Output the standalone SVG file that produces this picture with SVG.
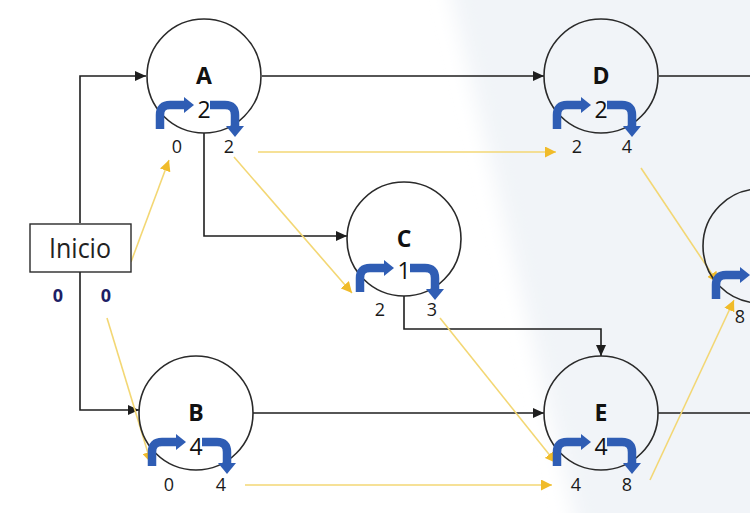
<svg xmlns="http://www.w3.org/2000/svg" xmlns:xlink="http://www.w3.org/1999/xlink" width="750" height="513" viewBox="0 0 750 513">
<style>
.circ{fill:none;stroke:#2a2a2a;stroke-width:1.6}
.name{font-family:"Open Sans","DejaVu Sans",sans-serif;font-weight:bold;font-size:23px;fill:#111;text-anchor:middle}
.dur{font-family:"Open Sans","DejaVu Sans",sans-serif;font-size:23px;font-weight:500;fill:#111;text-anchor:middle}
.val{font-family:"Open Sans","DejaVu Sans",sans-serif;font-size:18px;font-weight:500;fill:#1a1a1a;text-anchor:middle}
.ini{font-family:"Open Sans","DejaVu Sans",sans-serif;font-weight:bold;font-size:18px;fill:#1e1f66;text-anchor:middle}
.blk{fill:none;stroke:#1e1e1e;stroke-width:1.6}
.yel{fill:none;stroke:#f3d774;stroke-width:1.6}
.blue{fill:none;stroke:#2f5db4;stroke-width:8.5}
.bluefill{fill:#2f5db4}
</style>
<defs>
<marker id="ab" markerUnits="userSpaceOnUse" markerWidth="12" markerHeight="10" refX="11" refY="5" orient="auto"><path d="M0,0 L11,5 L0,10 z" fill="#1e1e1e"/></marker>
<marker id="ay" markerUnits="userSpaceOnUse" markerWidth="12" markerHeight="11" refX="11" refY="5.5" orient="auto"><path d="M0,0 L11,5.5 L0,11 z" fill="#f0bb2a"/></marker>
<g id="loopL"><path class="blue" d="M-44,53 V39 Q-44,29 -34,29 H-18"/><polygon class="bluefill" points="-20,21 -10,29 -20,37"/></g>
<g id="loopR"><path class="blue" d="M6,29 H21 Q31,29 31,39 V51"/><polygon class="bluefill" points="22,50 31,61 40,50"/></g>
<filter id="soft" x="-20%" y="-20%" width="140%" height="140%"><feGaussianBlur stdDeviation="10"/></filter>
</defs>
<rect width="750" height="513" fill="#ffffff"/>
<polygon points="445,-30 800,-30 800,560 585,560" fill="#f1f4f8" filter="url(#soft)"/>

<g id="connectors">
<path class="blk" d="M80,223 V76 H146" marker-end="url(#ab)"/>
<path class="blk" d="M80,272 V410 H139" marker-end="url(#ab)"/>
<path class="blk" d="M262,76 H544" marker-end="url(#ab)"/>
<path class="blk" d="M659,76 H750"/>
<path class="blk" d="M204,133 V236 H347" marker-end="url(#ab)"/>
<path class="blk" d="M404,296 V329 H601 V356" marker-end="url(#ab)"/>
<path class="blk" d="M253,413 H544" marker-end="url(#ab)"/>
<path class="blk" d="M658,413 H750"/>
<path class="yel" d="M131,262 L169,160" marker-end="url(#ay)"/>
<path class="yel" d="M107,318 L151,463" marker-end="url(#ay)"/>
<path class="yel" d="M234,157 L352,293" marker-end="url(#ay)"/>
<path class="yel" d="M258,152 H556" marker-end="url(#ay)"/>
<path class="yel" d="M440,318 L556,463" marker-end="url(#ay)"/>
<path class="yel" d="M245,485 H552" marker-end="url(#ay)"/>
<path class="yel" d="M641,168 L718,283" marker-end="url(#ay)"/>
<path class="yel" d="M650,480 L734,300" marker-end="url(#ay)"/>
</g>

<g id="node-Inicio">
<rect x="30" y="224" width="101" height="48" fill="#ffffff" stroke="#2a2a2a" stroke-width="1.4"/>
<text x="80" y="258" font-family="'Open Sans','DejaVu Sans',sans-serif" font-size="27" fill="#222" text-anchor="middle" textLength="62" lengthAdjust="spacingAndGlyphs">Inicio</text>
<text class="ini" x="58" y="302">0</text>
<text class="ini" x="106" y="302">0</text>
</g>

<g id="node-A" transform="translate(204,76)">
<circle class="circ" r="57"/>
<use xlink:href="#loopL"/><use xlink:href="#loopR"/>
<text class="name" y="8">A</text>
<text class="dur" y="42">2</text>
<text class="val" x="-27" y="77">0</text>
<text class="val" x="25" y="77">2</text>
</g>

<g id="node-D" transform="translate(601,76)">
<circle class="circ" r="57"/>
<use xlink:href="#loopL"/><use xlink:href="#loopR"/>
<text class="name" y="8">D</text>
<text class="dur" y="42">2</text>
<text class="val" x="-24" y="77">2</text>
<text class="val" x="26" y="77">4</text>
</g>

<g id="node-C" transform="translate(404,239)">
<circle class="circ" r="57"/>
<use xlink:href="#loopL"/><use xlink:href="#loopR"/>
<text class="name" y="8">C</text>
<text class="dur" y="40">1</text>
<text class="val" x="-24" y="77">2</text>
<text class="val" x="28" y="77">3</text>
</g>

<g id="node-B" transform="translate(196,413)">
<circle class="circ" r="57"/>
<use xlink:href="#loopL"/><use xlink:href="#loopR"/>
<text class="name" y="8">B</text>
<text class="dur" y="42">4</text>
<text class="val" x="-27" y="78">0</text>
<text class="val" x="25" y="78">4</text>
</g>

<g id="node-E" transform="translate(601,413)">
<circle class="circ" r="57"/>
<use xlink:href="#loopL"/><use xlink:href="#loopR"/>
<text class="name" y="8">E</text>
<text class="dur" y="42">4</text>
<text class="val" x="-25" y="78">4</text>
<text class="val" x="26" y="78">8</text>
</g>

<g id="node-F" transform="translate(760,246)">
<circle class="circ" r="57"/>
<use xlink:href="#loopL"/>
<text class="val" x="-20" y="77">8</text>
</g>
</svg>
